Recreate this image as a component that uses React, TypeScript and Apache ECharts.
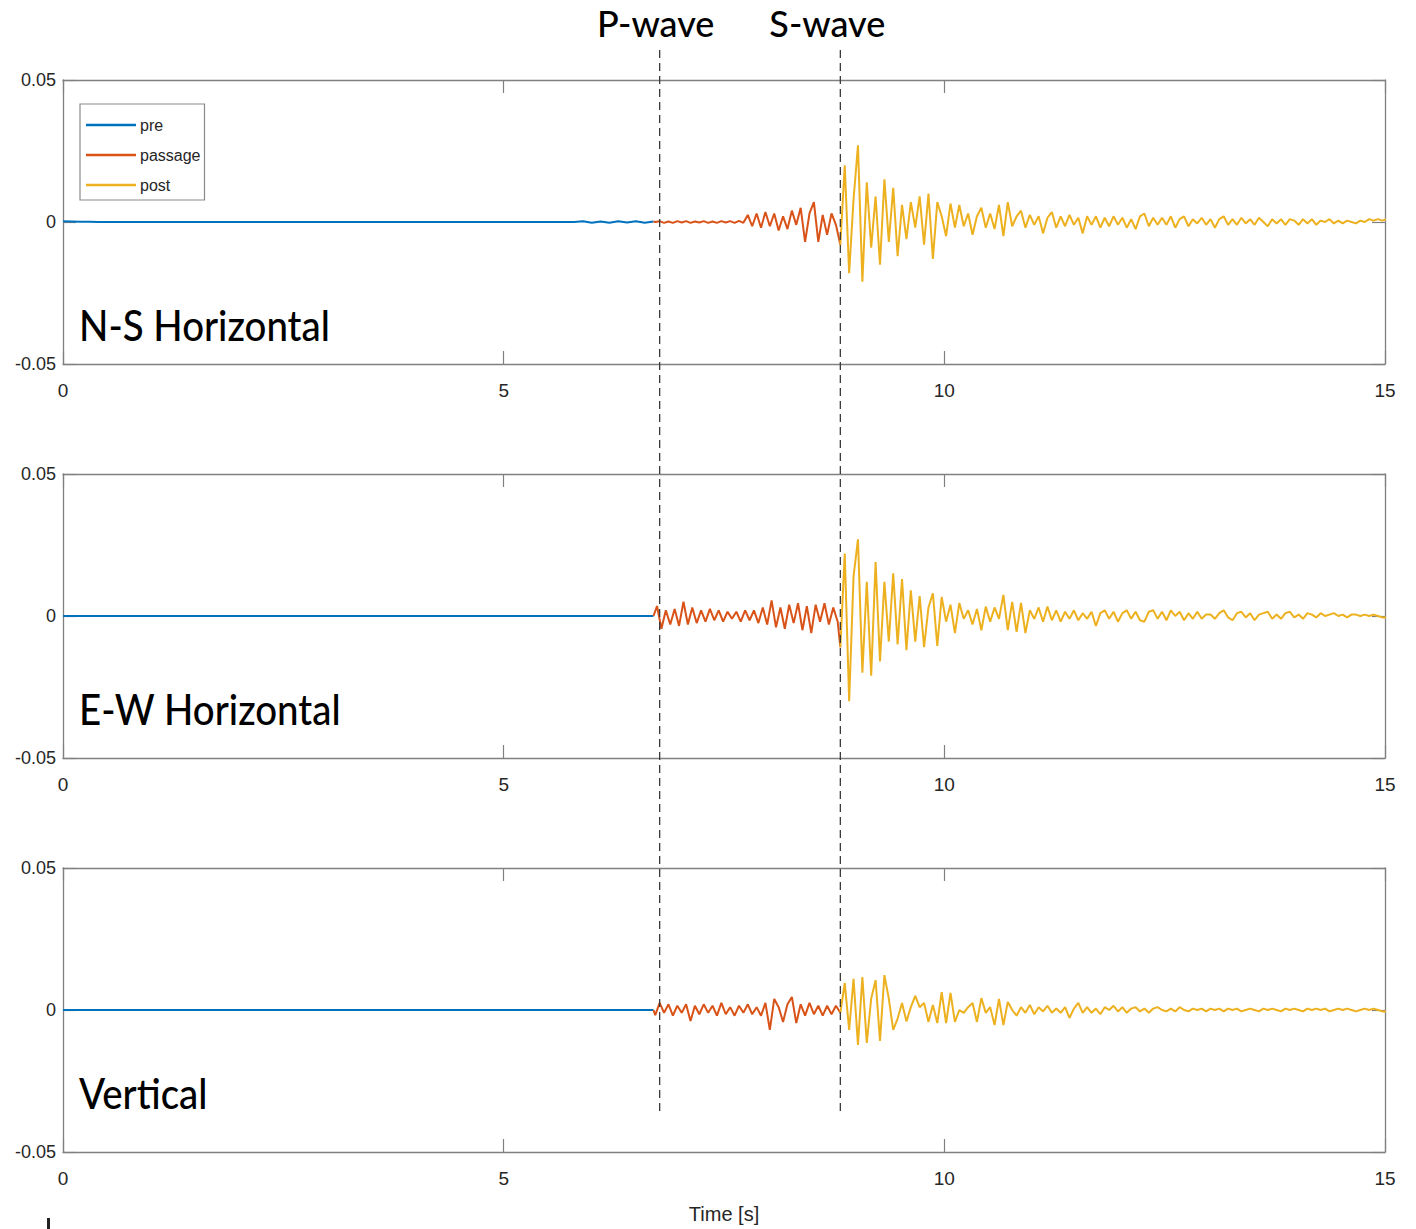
import React, { useEffect, useRef } from "react";
import * as echarts from "echarts";

// ---- time markers [s] ----
const P_TIME = 6.77;
const S_TIME = 8.82;

// ---- sampling of the traces [s] ----
const PRE_STEP = 0.1;
const WAVE_STEP = 0.05;
const POST_START = 8.82;
const PASS_START_NS = 6.72;
const PASS_START_EW = 6.74;
const PASS_START_V = 6.72;

// ---- axis ticks ----
const X_TICKS = [0, 5, 10, 15];
const Y_TICKS = [-0.05, 0, 0.05];

// ---- panel titles ----
const PANEL_TITLES = ["N-S Horizontal", "E-W Horizontal", "Vertical"];
const PHASE_LABELS = ["P-wave", "S-wave"];
const SEGMENT_NAMES = ["pre", "passage", "post"];

// ---- accelerations, in units of 1e-3 ----
const NS_PRE = [
  0.3, 0.2, 0.1, 0.1, 0, 0, 0, 0, 0, 0,
  0, 0, 0, 0, 0, 0, 0, 0, 0, 0,
  0, 0, 0, 0, 0, 0, 0, 0, 0, 0,
  0, 0, 0, 0, 0, 0, 0, 0, 0, 0,
  0, 0, 0, 0, 0, 0, 0, 0, 0, 0,
  0, 0, 0, 0, 0, 0, 0, 0, 0,
  0.25, -0.25, 0.2, -0.25, 0.25, -0.2, 0.25, -0.25, 0.2,
];
const NS_PASS = [
  0, 0.3, -0.3, 0.2, -0.3, 0.3, -0.2, 0.3, -0.3, 0.2,
  -0.2, 0.3, -0.3, 0.2, -0.3, 0.3, -0.2, 0.3, -0.3, 0.4,
  -0.3, 2.5, -1.5, 3.0, -2.0, 3.5, -1.5, 3.0, -3.0, 2.0,
  -2.5, 4.0, -1.0, 5.0, -7.0, 3.0, 7.0, -7.0, 2.5, -4.5,
  3.0, -1.0,
];
const NS_POST = [
  -8, 20, -18, 8, 27, -21, 14, -9, 9, -15,
  15, -7, 12, -12, 6, -6, 7, -2, 9, -8,
  10, -13, 7, 2, -5, 6.5, -2, 6, -1.5, 3,
  -4.5, 2, 5, -2, 3, -2.5, 6, -5, 7, -1.5,
  2, 4, -2, 2.5, -1, 2, -4, 1.5, 3.5, -2,
  2, -1.5, 2.5, -1, 1.5, -4, 2, -1, 2, -2,
  1.5, -1.5, 2, -1, 1.5, -2, 1, -2.5, 2, 3,
  -1.5, 1.5, -1, 1.5, -1, 2, -2, 1, 2, -1.5,
  1, -0.5, 1.5, -1, 1, -2, 1, 2, -1, 1,
  -1, 1.5, -0.5, 1, -1, 1.5, 0, -1.5, 1, -0.5,
  1, -1, 1, 0.5, -1, 1, -0.5, 1, -1, 0.5,
  0, 1, -0.5, 0.5, -0.5, 0.5, 0, -0.5, 0.5, 0,
  1, 0.5, 1, 0.5, 1,
];

const EW_PRE = [
  0, 0, 0, 0, 0, 0, 0, 0, 0, 0,
  0, 0, 0, 0, 0, 0, 0, 0, 0, 0,
  0, 0, 0, 0, 0, 0, 0, 0, 0, 0,
  0, 0, 0, 0, 0, 0, 0, 0, 0, 0,
  0, 0, 0, 0, 0, 0, 0, 0, 0, 0,
  0, 0, 0, 0, 0, 0, 0, 0, 0, 0,
  0, 0, 0, 0, 0, 0, 0, 0,
];
const EW_PASS = [
  3.5, -4.5, 2, -3, 2.5, -3.5, 5, -3, 3, -2.5,
  2, -2, 2.5, -1.5, 2, -2, 1.5, -1, 1.5, -2,
  2, -1.5, 2, -2.5, 3, -3, 5.5, -4, 3, -4.5,
  4, -2.5, 4.5, -5, 3.5, -6, 4, -2, 4.5, -3,
  3, -2,
];
const EW_POST = [
  -11, 22, -30, 14, 27, -20, 12, -21, 19, -16,
  12, -9, 15, -10, 13, -12, 9, -9, 7, -11,
  3, 8, -10.5, 6.7, -2, 4, -6, 4.6, -1, 2,
  -3, 2.5, -5, 3.3, -2, 3, -1, 7.4, -5, 5,
  -5.6, 4.6, -6, 2, -1, 3, -2, 3.3, -1.5, 2,
  -2, 1.5, -1, 2, -1.5, 1, -1, 1.5, -3.5, 1,
  2, -1, 1.5, -2, 1, 2, -1, 1.5, -1.5, -2,
  1.5, 2, -1, 1.5, -1.5, 2, 0, 1.5, -1.5, 1,
  -1, 1.5, -1, 0.5, 0.5, -1, 1, 2, -0.5, -1.5,
  1, 1.5, -0.5, 1, -1.5, 0.5, 1, 1.5, -1, 0.5,
  -1, 1, 1.5, -0.5, 0.5, -1, 1, 0.5, -0.5, 1,
  0, 0.5, 1, 0, 0.5, -0.5, 0.5, 0.5, 0, 0.5,
  0, 0.5, 0, -0.5, -0.5,
];

const V_PRE = [
  0, 0, 0, 0, 0, 0, 0, 0, 0, 0,
  0, 0, 0, 0, 0, 0, 0, 0, 0, 0,
  0, 0, 0, 0, 0, 0, 0, 0, 0, 0,
  0, 0, 0, 0, 0, 0, 0, 0, 0, 0,
  0, 0, 0, 0, 0, 0, 0, 0, 0, 0,
  0, 0, 0, 0, 0, 0, 0, 0, 0, 0,
  0, 0, 0, 0, 0, 0, 0, 0,
];
const V_PASS = [
  -1.8, 2.5, -1, 2, -2, 1.5, -1, 2, -3.9, 1.5,
  -1.5, 2, -1, 1.5, -2, 2.5, -1.5, 1, -2, 1.5,
  -1, 2, -1.5, 1, -2, 2.5, -7, 3.9, 1, -4.2,
  2, 4.6, -4.6, 2, -2, 2.5, -1.5, 1.5, -2, 1.5,
  -1.5, 1.5,
];
const V_POST = [
  -1, 9.5, -7, 11, -12.3, 11.6, -11.6, 4, 10.5, -10.9,
  12.3, 4, -7, -3, 2.5, -4, 1, 5, 1, 2.5,
  -4.2, 1.8, -4.6, 6.3, -4.6, 6, -4.2, 0, -1, 1,
  2.5, -4.2, 4.2, -1, 1, -5.3, 3.9, -5.3, 2.8, 0,
  -2, 1, -1, 1.8, -1.5, 1, -0.5, 1.5, -1, 0.5,
  -1, 1, -2.8, 0.5, 2.5, -1, 1, -1, 0.5, -1.5,
  1, 0, 1.5, -0.5, 1, -1, 0.5, 1, -0.5, 0.5,
  -1, 0.5, 1, 0, -0.5, 0.5, -0.5, 1, 0, -0.5,
  0.5, 0, 0.5, -0.5, 0.5, 0, 0.5, -0.5, 0.5, 0,
  0.5, -0.5, 0, 0.5, 0, -0.5, 0.5, 0, 0.5, 0,
  -0.5, 0.5, 0, 0.5, 0, -0.5, 0.5, 0, 0.5, 0,
  0.5, -0.5, 0, 0.5, 0, 0.5, 0, -0.5, 0, 0.5,
  0, 0.5, 0, -0.5, -0.5,
];

// ---- styling ----
const COLORS = { pre: "#0072BD", passage: "#D95319", post: "#EDB120" };
const AXIS_COLOR = "#808080";
const TEXT_COLOR = "#262626";
const TICK_FONT = '"Liberation Sans", Arial, sans-serif';
const TITLE_FONT = 'Lato, "Noto Sans", sans-serif';

const GRID_LEFT = 63;
const GRID_WIDTH = 1322;
const GRID_HEIGHT = 284;
const GRID_TOPS = [80, 474, 868];

type Trace = { pre: number[]; pass: number[]; post: number[]; passStart: number };

const TRACES: Trace[] = [
  { pre: NS_PRE, pass: NS_PASS, post: NS_POST, passStart: PASS_START_NS },
  { pre: EW_PRE, pass: EW_PASS, post: EW_POST, passStart: PASS_START_EW },
  { pre: V_PRE, pass: V_PASS, post: V_POST, passStart: PASS_START_V },
];

// turn a run of samples (1e-3 units) into [time, value] pairs
function samples(start: number, step: number, vals: number[]): [number, number][] {
  return vals.map((v, i) => [Number((start + i * step).toFixed(3)), v / 1000]);
}

function buildOption(): echarts.EChartsOption {
  const grid: any[] = [];
  const xAxis: any[] = [];
  const yAxis: any[] = [];
  const series: any[] = [];

  const axisLine = { show: true, onZero: false, lineStyle: { color: AXIS_COLOR, width: 1.3 } };
  const axisTick = { show: true, inside: true, length: 13, lineStyle: { color: AXIS_COLOR, width: 1.2 } };

  TRACES.forEach((tr, i) => {
    grid.push({
      left: GRID_LEFT,
      top: GRID_TOPS[i],
      width: GRID_WIDTH,
      height: GRID_HEIGHT,
      show: false,
      containLabel: false,
      outerBoundsMode: "none",
    });

    const xBase = {
      gridIndex: i,
      type: "value",
      min: X_TICKS[0],
      max: X_TICKS[X_TICKS.length - 1],
      interval: X_TICKS[1] - X_TICKS[0],
      axisLine,
      axisTick,
      splitLine: { show: false },
    };
    xAxis.push({
      ...xBase,
      position: "bottom",
      axisLabel: { show: true, fontSize: 19, color: TEXT_COLOR, fontFamily: TICK_FONT, margin: 17 },
      ...(i === 2
        ? {
            name: "Time [s]",
            nameLocation: "middle",
            nameGap: 52,
            nameTextStyle: { fontSize: 20, color: TEXT_COLOR, fontFamily: TICK_FONT },
          }
        : {}),
    });
    xAxis.push({ ...xBase, position: "top", axisLabel: { show: false } });

    const yBase = {
      gridIndex: i,
      type: "value",
      min: Y_TICKS[0],
      max: Y_TICKS[Y_TICKS.length - 1],
      interval: Y_TICKS[1] - Y_TICKS[0],
      axisLine,
      axisTick,
      splitLine: { show: false },
    };
    yAxis.push({
      ...yBase,
      position: "left",
      axisLabel: { show: true, fontSize: 18, color: TEXT_COLOR, fontFamily: TICK_FONT, margin: 7 },
    });
    yAxis.push({ ...yBase, position: "right", axisLabel: { show: false } });

    const pre = samples(0, PRE_STEP, tr.pre);
    const pass = samples(tr.passStart, WAVE_STEP, tr.pass);
    const post = samples(POST_START, WAVE_STEP, tr.post);

    // each later segment starts from the last point of the one before it
    const segs: [string, string, [number, number][]][] = [
      [SEGMENT_NAMES[0], COLORS.pre, pre],
      [SEGMENT_NAMES[1], COLORS.passage, [pre[pre.length - 1]].concat(pass, [post[0]])],
      [SEGMENT_NAMES[2], COLORS.post, post],
    ];
    segs.forEach(([name, color, data]) => {
      series.push({
        name,
        type: "line",
        xAxisIndex: i * 2,
        yAxisIndex: i * 2,
        data,
        color,
        showSymbol: false,
        symbol: "none",
        lineStyle: { color, width: 2 },
        clip: true,
        z: 3,
      });
    });
  });

  return {
    animation: false,
    backgroundColor: "#ffffff",
    grid,
    xAxis,
    yAxis,
    series,
    legend: {
      data: SEGMENT_NAMES,
      orient: "vertical",
      left: 80,
      top: 104,
      icon: "rect",
      itemWidth: 50,
      itemHeight: 2.5,
      itemGap: 10,
      padding: [11, 4, 5, 6],
      backgroundColor: "#ffffff",
      borderColor: "#8a8a8a",
      borderWidth: 1.2,
      borderRadius: 0,
      textStyle: { fontSize: 16, color: TEXT_COLOR, fontFamily: TICK_FONT, lineHeight: 20, padding: [0, 0, 0, -1] },
      selectedMode: false,
    },
  };
}

export default function App() {
  const ref = useRef<HTMLDivElement>(null);

  useEffect(() => {
    if (!ref.current) return;
    const chart = echarts.init(ref.current, undefined, { renderer: "svg", width: 1416, height: 1229 });
    chart.setOption(buildOption());

    // phase-arrival markers spanning all three panels
    const pX = chart.convertToPixel({ xAxisIndex: 0 }, P_TIME) as number;
    const sX = chart.convertToPixel({ xAxisIndex: 0 }, S_TIME) as number;
    const dash = { stroke: "#3a3a3a", lineWidth: 1.3, lineDash: [8, 5] };

    const titleText = (text: string, x: number, y: number) => ({
      type: "text",
      x,
      y,
      scaleX: 0.915,
      style: { text, fill: "#000", font: `500 42px ${TITLE_FONT}`, textVerticalAlign: "bottom" },
      z: 10,
    });
    const phaseText = (text: string, x: number) => ({
      type: "text",
      x,
      y: 41,
      style: { text, fill: "#000", font: `500 36px ${TITLE_FONT}`, textAlign: "center", textVerticalAlign: "bottom" },
    });

    chart.setOption({
      graphic: [
        { type: "line", shape: { x1: pX, y1: 50, x2: pX, y2: 1115 }, style: dash, z: 5 },
        { type: "line", shape: { x1: sX, y1: 50, x2: sX, y2: 1115 }, style: dash, z: 5 },
        phaseText(PHASE_LABELS[0], pX - 4),
        phaseText(PHASE_LABELS[1], sX - 13),
        titleText(PANEL_TITLES[0], 79, 346),
        titleText(PANEL_TITLES[1], 79, 730),
        titleText(PANEL_TITLES[2], 79, 1114),
        { type: "rect", shape: { x: 47, y: 1218, width: 3, height: 11 }, style: { fill: "#222" } },
      ],
    });

    return () => chart.dispose();
  }, []);

  return (
    <div
      ref={ref}
      style={{ position: "absolute", left: 0, top: 0, width: 1416, height: 1229, background: "#fff" }}
    />
  );
}
